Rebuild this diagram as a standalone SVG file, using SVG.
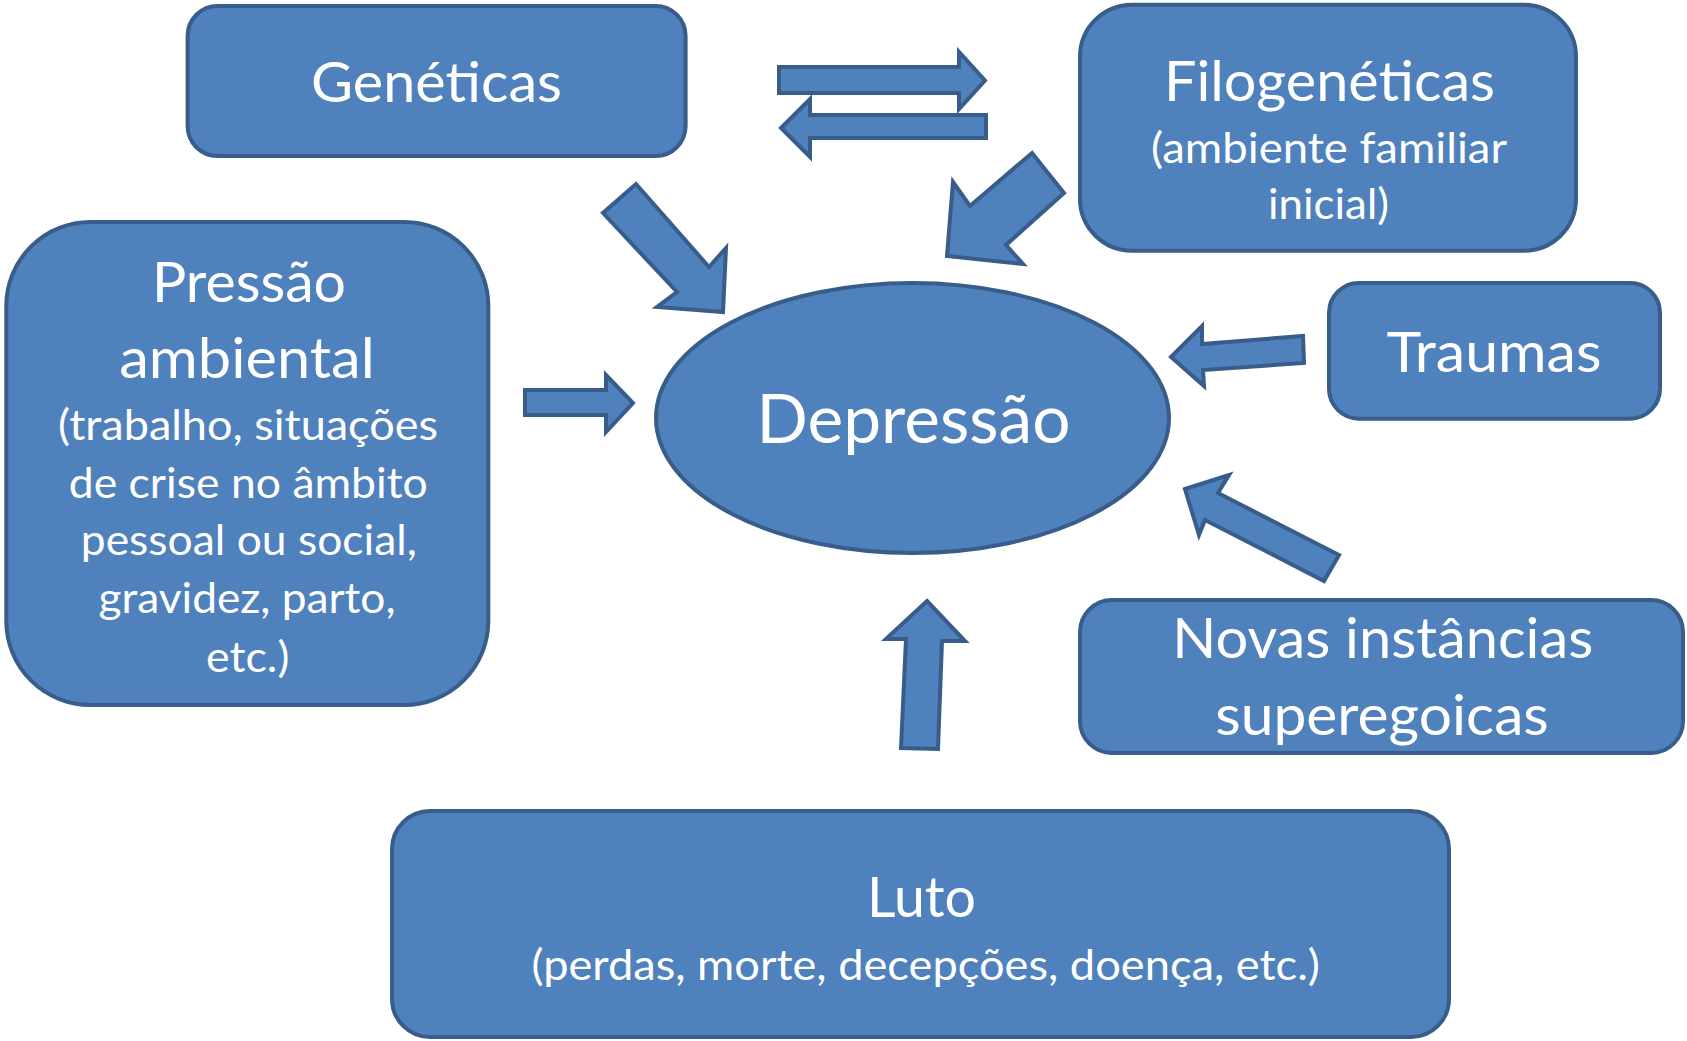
<svg xmlns="http://www.w3.org/2000/svg" width="1687" height="1041" viewBox="0 0 1687 1041">
<style>
.shape{fill:#4F81BD;stroke:#385D8A;stroke-width:4;stroke-linejoin:miter}
.arrow{fill:#4F81BD;stroke:#385D8A;stroke-width:4;stroke-linejoin:miter}
text{font-family:Lato,"Open Sans","Liberation Sans",sans-serif;fill:#FFFFFF;text-anchor:middle}
.big{font-size:56px}
.small{font-size:43px}
.huge{font-size:67px}
</style>
<rect width="1687" height="1041" fill="#FFFFFF"/>
<g id="connectors">
<polygon class="arrow" points="779,67 959,67 959,52 985,80.5 959,109 959,93 779,93"/>
<polygon class="arrow" points="781,128 810,99 810,115 986,115 986,138 810,138 810,157"/>
<polygon class="arrow" points="636,184 709,267 726,248 723,312 657,307 677,292 603,213"/>
<polygon class="arrow" points="1032,153 1064,193 1006,245 1023,264 947,256 953,182 970,206"/>
<polygon class="arrow" points="525,390 606,390 606,375 633,403 606,432 606,415 525,415"/>
<polygon class="arrow" points="1303,336 1304,363 1203,370 1204,386 1171,357 1202,326 1202,344"/>
<polygon class="arrow" points="1185,489 1229,475 1218,493 1339,555 1324,581 1205,520 1199,535"/>
<polygon class="arrow" points="927,601 965,641 942,641 938,749 901,748 906,639 886,639"/>
</g>
<g id="geneticas">
<rect class="shape" x="187.6" y="6" width="498" height="150" rx="30" ry="30"/>
<text class="big" x="436.5" y="101.7" textLength="251" lengthAdjust="spacingAndGlyphs">Genéticas</text>
</g>
<g id="filogeneticas">
<rect class="shape" x="1080" y="4.7" width="496" height="246" rx="52" ry="52"/>
<text class="big" x="1329.5" y="100.7" textLength="331" lengthAdjust="spacingAndGlyphs">Filogenéticas</text>
<text class="small" x="1329" y="163" textLength="356" lengthAdjust="spacingAndGlyphs">(ambiente familiar</text>
<text class="small" x="1328.5" y="219.3" textLength="121" lengthAdjust="spacingAndGlyphs">inicial)</text>
</g>
<g id="pressao">
<rect class="shape" x="6.3" y="222" width="482" height="483" rx="84" ry="84"/>
<text class="big" x="249" y="301.7" textLength="194" lengthAdjust="spacingAndGlyphs">Pressão</text>
<text class="big" x="247" y="378.3" textLength="255.6" lengthAdjust="spacingAndGlyphs">ambiental</text>
<text class="small" x="248" y="440" textLength="380" lengthAdjust="spacingAndGlyphs">(trabalho, situações</text>
<text class="small" x="248.3" y="498.3" textLength="359" lengthAdjust="spacingAndGlyphs">de crise no âmbito</text>
<text class="small" x="248.8" y="555" textLength="336" lengthAdjust="spacingAndGlyphs">pessoal ou social,</text>
<text class="small" x="247" y="613.3" textLength="297" lengthAdjust="spacingAndGlyphs">gravidez, parto,</text>
<text class="small" x="247.7" y="671.7" textLength="83.4" lengthAdjust="spacingAndGlyphs">etc.)</text>
</g>
<g id="depressao">
<ellipse class="shape" cx="912.5" cy="418" rx="256.5" ry="135"/>
<text class="huge" x="913.5" y="443" textLength="314" lengthAdjust="spacingAndGlyphs">Depressão</text>
</g>
<g id="traumas">
<rect class="shape" x="1329" y="283" width="331" height="135.7" rx="30" ry="30"/>
<text class="big" x="1494" y="371.7" textLength="215" lengthAdjust="spacingAndGlyphs">Traumas</text>
</g>
<g id="novas">
<rect class="shape" x="1080" y="600" width="603" height="153" rx="32" ry="32"/>
<text class="big" x="1382.7" y="658.3" textLength="421" lengthAdjust="spacingAndGlyphs">Novas instâncias</text>
<text class="big" x="1382" y="735" textLength="333.6" lengthAdjust="spacingAndGlyphs">superegoicas</text>
</g>
<g id="luto">
<rect class="shape" x="392" y="811" width="1057" height="226" rx="38" ry="38"/>
<text class="big" x="921.5" y="916.7" textLength="109" lengthAdjust="spacingAndGlyphs">Luto</text>
<text class="small" x="925.7" y="980" textLength="788.5" lengthAdjust="spacingAndGlyphs">(perdas, morte, decepções, doença, etc.)</text>
</g>
</svg>
